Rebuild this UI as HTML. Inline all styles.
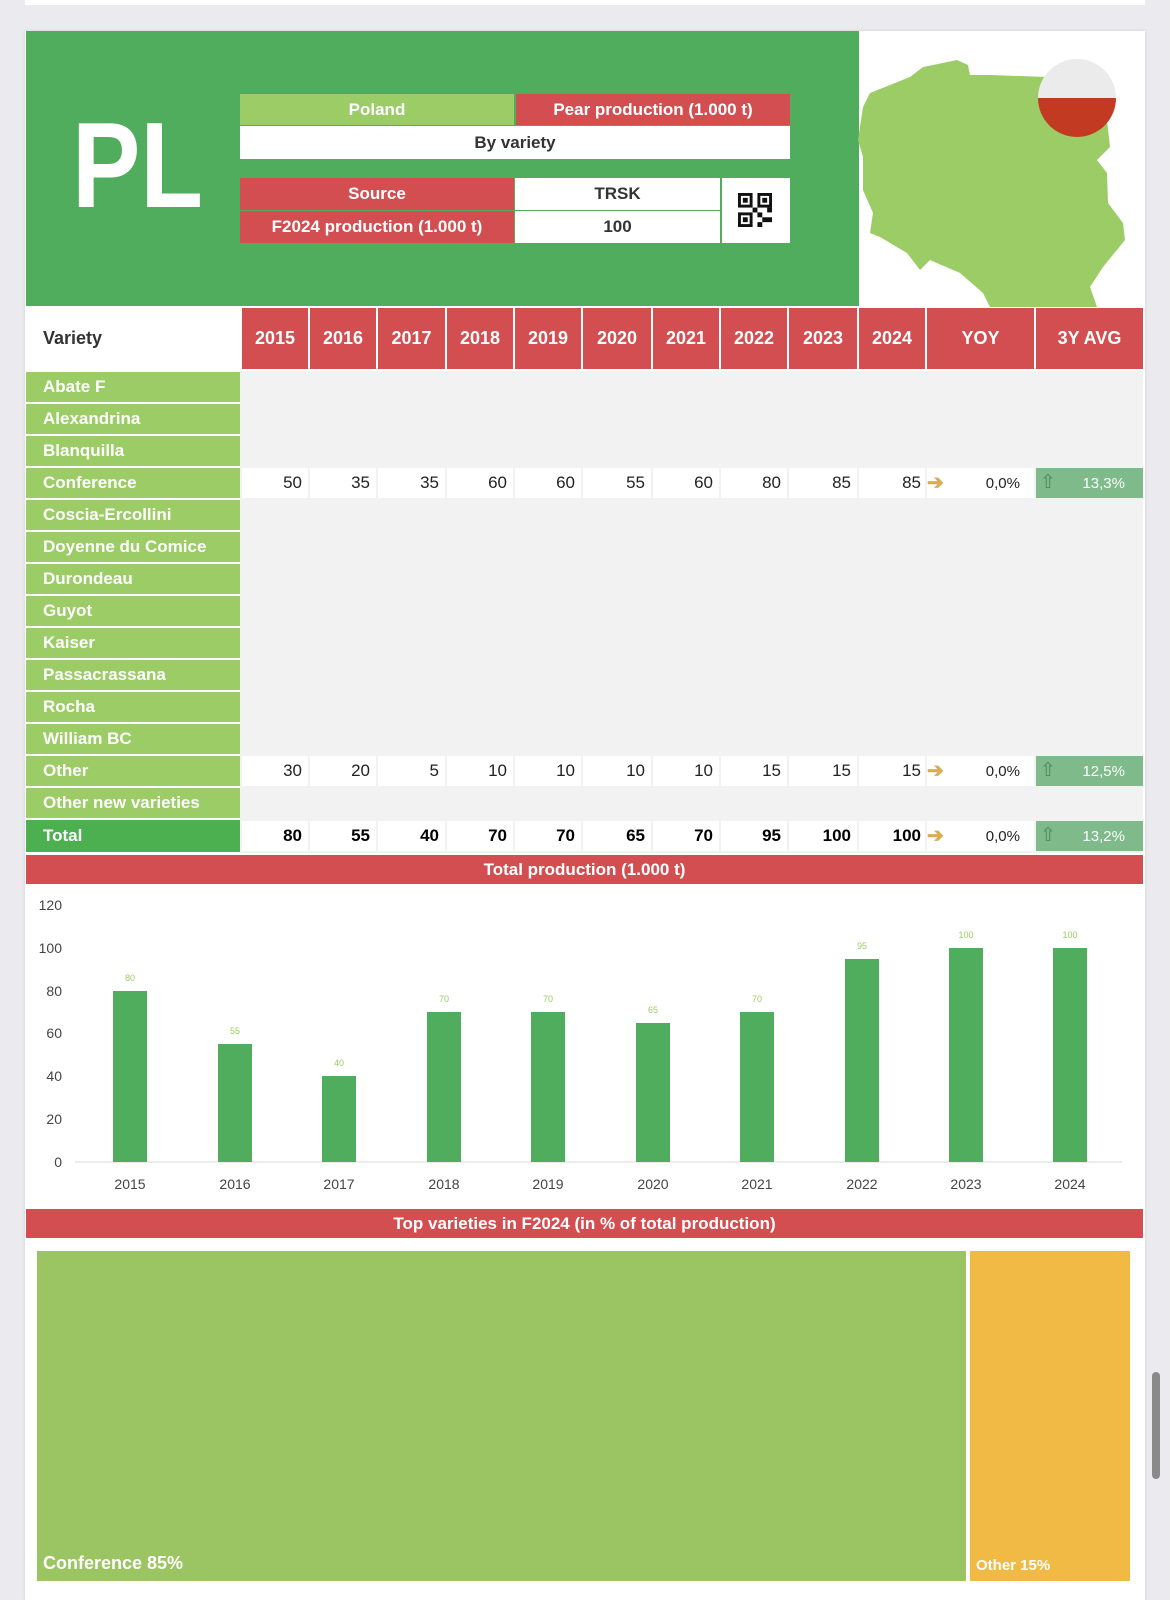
<!DOCTYPE html>
<html><head><meta charset="utf-8"><style>
*{margin:0;padding:0;box-sizing:border-box}
body{width:1170px;height:1600px;background:#ebebef;position:relative;overflow:hidden;font-family:"Liberation Sans",sans-serif}
.a{position:absolute}
.c{position:absolute;display:flex;align-items:center;justify-content:center;font-weight:bold;font-size:17px}
.red{background:#d24e50;color:#fff}
.lg{background:#9ccc65;color:#fff}
.lab{position:absolute;left:26px;width:214px;height:30px;background:#9ccc65;color:#fff;font-weight:bold;font-size:17px;padding-left:17px;display:flex;align-items:center}
.n{position:absolute;height:30px;background:#fff;font-size:17px;color:#222;display:flex;align-items:center;justify-content:flex-end;padding-right:6px}
.b{font-weight:bold;color:#000}
.arr{position:absolute;color:#d9ad55;font-size:20px;font-weight:bold}
.avg{position:absolute;left:1036px;width:107px;height:30px;background:#7fba8a;color:#fff;font-size:15px;display:flex;align-items:center;justify-content:flex-end;padding-right:18px}
.avg i{position:absolute;left:4px;top:3px;font-style:normal;color:#4f8a5f;font-size:19px}
</style></head><body>
<div class="a" style="left:25px;top:0;width:1120px;height:5px;background:#fff"></div>
<div class="a" style="left:25px;top:31px;width:1120px;height:1569px;background:#fff;box-shadow:0 0 3px #ccc"></div>
<div class="a" style="left:26px;top:31px;width:833px;height:275px;background:#50ad5d"></div>
<div class="a" style="left:72px;top:104px;color:#fff;font-weight:bold;font-size:122px;line-height:1;transform:scaleX(0.84);transform-origin:0 0">PL</div>
<div class="c lg" style="left:240px;top:94px;width:274px;height:31px">Poland</div>
<div class="c red" style="left:516px;top:94px;width:274px;height:31px">Pear production (1.000 t)</div>
<div class="c" style="left:240px;top:126px;width:550px;height:33px;background:#fff;color:#333">By variety</div>
<div class="c red" style="left:240px;top:178px;width:274px;height:32px">Source</div>
<div class="c red" style="left:240px;top:211px;width:274px;height:32px">F2024 production (1.000 t)</div>
<div class="c" style="left:515px;top:178px;width:205px;height:32px;background:#fff;color:#333">TRSK</div>
<div class="c" style="left:515px;top:211px;width:205px;height:32px;background:#fff;color:#333">100</div>
<div class="a" style="left:722px;top:178px;width:68px;height:65px;background:#fff"></div>
<svg class="a" style="left:738px;top:193px" width="34" height="34" viewBox="0 0 7 7"><g fill="#111"><rect x="0" y="0" width="3" height="3"/><rect x="4" y="0" width="3" height="3"/><rect x="0" y="4" width="3" height="3"/><rect x="4" y="4" width="1" height="1"/><rect x="5" y="5" width="2" height="1"/><rect x="3" y="3" width="1" height="1"/><rect x="6" y="3" width="1" height="1"/><rect x="4" y="6" width="1" height="1"/></g><g fill="#fff"><rect x=".6" y=".6" width="1.8" height="1.8"/><rect x="4.6" y=".6" width="1.8" height="1.8"/><rect x=".6" y="4.6" width="1.8" height="1.8"/></g><g fill="#111"><rect x="1" y="1" width="1" height="1"/><rect x="5" y="1" width="1" height="1"/><rect x="1" y="5" width="1" height="1"/></g></svg>
<svg class="a" style="left:0;top:0" width="1170" height="320"><polygon fill="#9ccc65" points="933,65 957,60 968,65 970,75 990,75 1047,77 1107,120 1110,147 1097,160 1107,173 1108,203 1123,223 1125,240 1103,267 1090,287 1097,307 990,307 983,293 960,273 930,260 920,270 907,253 880,237 870,233 873,213 863,190 863,157 858,140 863,107 870,93 910,77 923,67"/><clipPath id="f"><circle cx="1077" cy="98" r="39"/></clipPath><g clip-path="url(#f)"><rect x="1030" y="50" width="100" height="48" fill="#ebebeb"/><rect x="1030" y="98" width="100" height="50" fill="#c33a22"/></g></svg>
<div class="a" style="left:26px;top:308px;width:214px;height:61px;background:#fff"></div>
<div class="a" style="left:43px;top:328px;font-weight:bold;font-size:18px;color:#333">Variety</div>
<div class="c red" style="left:242px;top:308px;width:66px;height:61px;font-size:18px">2015</div>
<div class="c red" style="left:310px;top:308px;width:66px;height:61px;font-size:18px">2016</div>
<div class="c red" style="left:378px;top:308px;width:67px;height:61px;font-size:18px">2017</div>
<div class="c red" style="left:447px;top:308px;width:66px;height:61px;font-size:18px">2018</div>
<div class="c red" style="left:515px;top:308px;width:66px;height:61px;font-size:18px">2019</div>
<div class="c red" style="left:583px;top:308px;width:68px;height:61px;font-size:18px">2020</div>
<div class="c red" style="left:653px;top:308px;width:66px;height:61px;font-size:18px">2021</div>
<div class="c red" style="left:721px;top:308px;width:66px;height:61px;font-size:18px">2022</div>
<div class="c red" style="left:789px;top:308px;width:68px;height:61px;font-size:18px">2023</div>
<div class="c red" style="left:859px;top:308px;width:66px;height:61px;font-size:18px">2024</div>
<div class="c red" style="left:927px;top:308px;width:107px;height:61px;font-size:18px">YOY</div>
<div class="c red" style="left:1036px;top:308px;width:107px;height:61px;font-size:18px">3Y AVG</div>
<div class="a" style="left:240px;top:371px;width:903px;height:482px;background:#f2f2f2"></div>
<div class="lab" style="top:372px">Abate F</div>
<div class="lab" style="top:404px">Alexandrina</div>
<div class="lab" style="top:436px">Blanquilla</div>
<div class="lab" style="top:468px">Conference</div>
<div class="lab" style="top:500px">Coscia-Ercollini</div>
<div class="lab" style="top:532px">Doyenne du Comice</div>
<div class="lab" style="top:564px">Durondeau</div>
<div class="lab" style="top:596px">Guyot</div>
<div class="lab" style="top:628px">Kaiser</div>
<div class="lab" style="top:660px">Passacrassana</div>
<div class="lab" style="top:692px">Rocha</div>
<div class="lab" style="top:724px">William BC</div>
<div class="lab" style="top:756px">Other</div>
<div class="lab" style="top:788px">Other new varieties</div>
<div class="lab" style="top:820px;background:#4caf50;height:32px">Total</div>
<div class="n" style="left:242px;top:468px;width:66px">50</div><div class="n" style="left:310px;top:468px;width:66px">35</div><div class="n" style="left:378px;top:468px;width:67px">35</div><div class="n" style="left:447px;top:468px;width:66px">60</div><div class="n" style="left:515px;top:468px;width:66px">60</div><div class="n" style="left:583px;top:468px;width:68px">55</div><div class="n" style="left:653px;top:468px;width:66px">60</div><div class="n" style="left:721px;top:468px;width:66px">80</div><div class="n" style="left:789px;top:468px;width:68px">85</div><div class="n" style="left:859px;top:468px;width:66px;padding-right:4px">85</div><div class="n" style="left:927px;top:468px;width:107px;padding-right:14px;font-size:15px">0,0%</div><div class="arr" style="left:927px;top:470px">➔</div><div class="avg" style="top:468px"><i>⇧</i>13,3%</div>
<div class="n" style="left:242px;top:756px;width:66px">30</div><div class="n" style="left:310px;top:756px;width:66px">20</div><div class="n" style="left:378px;top:756px;width:67px">5</div><div class="n" style="left:447px;top:756px;width:66px">10</div><div class="n" style="left:515px;top:756px;width:66px">10</div><div class="n" style="left:583px;top:756px;width:68px">10</div><div class="n" style="left:653px;top:756px;width:66px">10</div><div class="n" style="left:721px;top:756px;width:66px">15</div><div class="n" style="left:789px;top:756px;width:68px">15</div><div class="n" style="left:859px;top:756px;width:66px;padding-right:4px">15</div><div class="n" style="left:927px;top:756px;width:107px;padding-right:14px;font-size:15px">0,0%</div><div class="arr" style="left:927px;top:758px">➔</div><div class="avg" style="top:756px"><i>⇧</i>12,5%</div>
<div class="n b" style="left:242px;top:821px;width:66px">80</div><div class="n b" style="left:310px;top:821px;width:66px">55</div><div class="n b" style="left:378px;top:821px;width:67px">40</div><div class="n b" style="left:447px;top:821px;width:66px">70</div><div class="n b" style="left:515px;top:821px;width:66px">70</div><div class="n b" style="left:583px;top:821px;width:68px">65</div><div class="n b" style="left:653px;top:821px;width:66px">70</div><div class="n b" style="left:721px;top:821px;width:66px">95</div><div class="n b" style="left:789px;top:821px;width:68px">100</div><div class="n b" style="left:859px;top:821px;width:66px;padding-right:4px">100</div><div class="n" style="left:927px;top:821px;width:107px;padding-right:14px;font-size:15px">0,0%</div><div class="arr" style="left:927px;top:823px">➔</div><div class="avg" style="top:821px"><i>⇧</i>13,2%</div>
<div class="c red" style="left:26px;top:855px;width:1117px;height:29px">Total production (1.000 t)</div>
<svg class="a" style="left:0;top:880px" width="1170" height="320" font-family="Liberation Sans, sans-serif">
<g font-size="14" fill="#444" text-anchor="end"><text x="62" y="30">120</text><text x="62" y="73">100</text><text x="62" y="116">80</text><text x="62" y="158">60</text><text x="62" y="201">40</text><text x="62" y="244">20</text><text x="62" y="287">0</text></g>
<line x1="75" y1="282" x2="1122" y2="282" stroke="#d9d9d9"/>
<g fill="#50ad5d">
<rect x="113" y="111" width="34" height="171"/><rect x="218" y="164" width="34" height="118"/><rect x="322" y="196" width="34" height="86"/><rect x="427" y="132" width="34" height="150"/><rect x="531" y="132" width="34" height="150"/><rect x="636" y="143" width="34" height="139"/><rect x="740" y="132" width="34" height="150"/><rect x="845" y="79" width="34" height="203"/><rect x="949" y="68" width="34" height="214"/><rect x="1053" y="68" width="34" height="214"/></g>
<g font-size="9" fill="#9ccc65" text-anchor="middle"><text x="130" y="101">80</text><text x="235" y="154">55</text><text x="339" y="186">40</text><text x="444" y="122">70</text><text x="548" y="122">70</text><text x="653" y="133">65</text><text x="757" y="122">70</text><text x="862" y="69">95</text><text x="966" y="58">100</text><text x="1070" y="58">100</text></g>
<g font-size="14" fill="#444" text-anchor="middle"><text x="130" y="309">2015</text><text x="235" y="309">2016</text><text x="339" y="309">2017</text><text x="444" y="309">2018</text><text x="548" y="309">2019</text><text x="653" y="309">2020</text><text x="757" y="309">2021</text><text x="862" y="309">2022</text><text x="966" y="309">2023</text><text x="1070" y="309">2024</text></g>
</svg>
<div class="c red" style="left:26px;top:1209px;width:1117px;height:29px">Top varieties in F2024 (in % of total production)</div>
<div class="a" style="left:37px;top:1251px;width:929px;height:330px;background:#9bc462"></div>
<div class="a" style="left:43px;top:1553px;color:#fff;font-weight:bold;font-size:18px">Conference 85%</div>
<div class="a" style="left:970px;top:1251px;width:160px;height:330px;background:#f1ba45"></div>
<div class="a" style="left:976px;top:1557px;color:#fff;font-weight:bold;font-size:15px">Other 15%</div>
<div class="a" style="left:1152px;top:1372px;width:8px;height:107px;background:#8a8a8a;border-radius:4px"></div>
</body></html>
